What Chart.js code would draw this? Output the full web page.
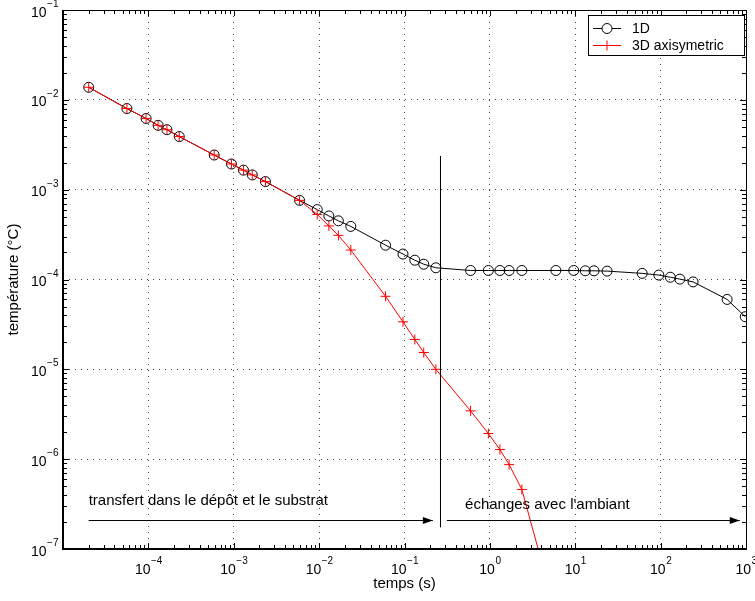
<!DOCTYPE html>
<html><head><meta charset="utf-8">
<script src="https://cdn.jsdelivr.net/npm/chart.js@4.4.1/dist/chart.umd.min.js"></script>
<style>html,body{margin:0;padding:0;background:#fff;overflow:hidden}#wrap{width:755px;height:601px}</style>
</head><body><div id="wrap"><canvas id="c" width="755" height="601"></canvas></div>
<script>
// ---- data ----
const times1D = [2e-5, 5.6e-5, 9.4e-5, 1.3e-4, 1.65e-4, 2.3e-4, 5.9e-4, 9.4e-4, 1.3e-3, 1.65e-3, 2.35e-3,
  5.9e-3, 9.5e-3, 1.3e-2, 1.68e-2, 2.35e-2, 6.0e-2, 9.6e-2, 0.132, 0.168, 0.233,
  0.594, 0.96, 1.31, 1.68, 2.37, 5.93, 9.6, 13.1, 16.6, 23.6, 60.8, 95.3, 130, 168, 240, 601, 980];
const temp1D = [1.38e-2, 8.0e-3, 6.2e-3, 5.2e-3, 4.65e-3, 3.9e-3, 2.43e-3, 1.93e-3, 1.65e-3, 1.46e-3, 1.23e-3,
  7.6e-4, 6.0e-4, 5.1e-4, 4.5e-4, 3.9e-4, 2.41e-4, 1.92e-4, 1.64e-4, 1.48e-4, 1.35e-4,
  1.26e-4, 1.26e-4, 1.26e-4, 1.26e-4, 1.26e-4, 1.26e-4, 1.26e-4, 1.25e-4, 1.25e-4, 1.24e-4, 1.17e-4, 1.12e-4, 1.06e-4, 1.01e-4, 9.4e-5, 6.0e-5, 3.85e-5];
const times3D = [2e-5, 5.6e-5, 9.4e-5, 1.3e-4, 1.65e-4, 2.3e-4, 5.9e-4, 9.4e-4, 1.3e-3, 1.65e-3, 2.35e-3,
  5.9e-3, 9.5e-3, 1.3e-2, 1.68e-2, 2.35e-2, 6.0e-2, 9.6e-2, 0.132, 0.168, 0.233,
  0.594, 0.96, 1.31, 1.68, 2.37, 5.93];
const temp3D = [1.38e-2, 8.0e-3, 6.2e-3, 5.2e-3, 4.65e-3, 3.9e-3, 2.43e-3, 1.93e-3, 1.65e-3, 1.46e-3, 1.23e-3,
  7.6e-4, 5.3e-4, 3.95e-4, 3.1e-4, 2.13e-4, 6.5e-5, 3.38e-5, 2.15e-5, 1.54e-5, 1.0e-5,
  3.45e-6, 1.93e-6, 1.28e-6, 8.7e-7, 4.6e-7, 1.9e-8];
const seriesNames = ['1D', '3D axisymetric'];
const xTickExps = [-4, -3, -2, -1, 0, 1, 2, 3];
const yTickExps = [-7, -6, -5, -4, -3, -2, -1];
const xRange = [1e-5, 1e3];
const yRange = [1e-7, 1e-1];
const xTitle = 'temps (s)';
const yTitle = 'température (°C)';
// annotations
const separatorX = [0.264, 0.264];
const separatorY = [2.37e-3, 1.75e-7];
const arrowLeftX = [2e-5, 0.215];
const arrowRightX = [0.313, 845];
const arrowY = [2.075e-7, 2.075e-7];
const annotTexts = ['transfert dans le dépôt et le substrat', "échanges avec l'ambiant"];
const annotX = [2e-5, 0.512];
const annotY = [3.09e-7, 2.79e-7];

// ---- helpers ----
const FONT = '"Liberation Sans", Arial, Helvetica, sans-serif';
const isMajor = v => Math.abs(Math.log10(v) - Math.round(Math.log10(v))) < 1e-6;
const pts = (xs, ys) => xs.map((x, i) => ({x: x, y: ys[i]}));

const matlabPlugin = {
  id: 'matlabAxes',
  afterDatasetsDraw(chart) {
    const ctx = chart.ctx, a = chart.chartArea, xs = chart.scales.x, ys = chart.scales.y;
    ctx.save();
    // arrowheads
    ctx.fillStyle = '#000';
    [arrowLeftX, arrowRightX].forEach(ax => {
      const tx = xs.getPixelForValue(ax[1]), ty = ys.getPixelForValue(arrowY[1]);
      ctx.beginPath();
      ctx.moveTo(tx, ty);
      ctx.lineTo(tx - 10, ty - 3.5);
      ctx.lineTo(tx - 10, ty + 3.5);
      ctx.closePath();
      ctx.fill();
    });
    // annotation texts
    ctx.font = '15px ' + FONT;
    ctx.textAlign = 'left';
    ctx.textBaseline = 'alphabetic';
    annotTexts.forEach((t, i) => {
      ctx.fillText(t, xs.getPixelForValue(annotX[i]), ys.getPixelForValue(annotY[i]));
    });
    // ticks (inward, all four sides)
    ctx.strokeStyle = '#000';
    ctx.lineWidth = 1;
    ctx.beginPath();
    for (let d = -5; d <= 3; d++) {
      for (let k = 1; k <= 9; k++) {
        const v = k * Math.pow(10, d);
        if (v > xRange[1] * 1.0001) break;
        const px = Math.round(xs.getPixelForValue(v)) + 0.5;
        const len = k === 1 ? 6 : 4;
        ctx.moveTo(px, a.bottom); ctx.lineTo(px, a.bottom - len);
        ctx.moveTo(px, a.top); ctx.lineTo(px, a.top + len);
      }
    }
    for (let d = -7; d <= -1; d++) {
      for (let k = 1; k <= 9; k++) {
        const v = k * Math.pow(10, d);
        if (v > yRange[1] * 1.0001) break;
        const py = Math.round(ys.getPixelForValue(v)) + 0.5;
        const len = k === 1 ? 6 : 4;
        ctx.moveTo(a.left, py); ctx.lineTo(a.left + len, py);
        ctx.moveTo(a.right, py); ctx.lineTo(a.right - len, py);
      }
    }
    ctx.stroke();
    // box
    ctx.lineWidth = 1;
    ctx.beginPath();
    ctx.moveTo(a.left, Math.round(a.top) + 0.5); ctx.lineTo(a.right, Math.round(a.top) + 0.5);
    ctx.moveTo(Math.round(a.right) + 0.5, a.top); ctx.lineTo(Math.round(a.right) + 0.5, a.bottom);
    ctx.stroke();
    ctx.lineWidth = 2;
    ctx.beginPath();
    ctx.moveTo(Math.round(a.left), a.top); ctx.lineTo(Math.round(a.left), a.bottom + 1);
    ctx.moveTo(a.left - 1, Math.round(a.bottom)); ctx.lineTo(a.right + 1, Math.round(a.bottom));
    ctx.stroke();
    // tick labels
    const base = '14px ' + FONT, sup = '10px ' + FONT;
    ctx.fillStyle = '#000';
    ctx.textBaseline = 'alphabetic';
    ctx.textAlign = 'left';
    xTickExps.forEach(e => {
      const px = xs.getPixelForValue(Math.pow(10, e));
      const s = e < 0 ? '\u2212' + (-e) : String(e);
      ctx.font = base; const w1 = ctx.measureText('10').width;
      ctx.font = sup; const w2 = ctx.measureText(s).width;
      const x0 = px - (w1 + w2) / 2;
      const by = a.bottom + 24.5;
      ctx.font = base; ctx.fillText('10', x0, by);
      ctx.font = sup; ctx.fillText(s, x0 + w1 + 0.5, by - 10);
    });
    yTickExps.forEach(e => {
      const py = ys.getPixelForValue(Math.pow(10, e));
      const s = e < 0 ? '\u2212' + (-e) : String(e);
      ctx.font = base; const w1 = ctx.measureText('10').width;
      ctx.font = sup; const w2 = ctx.measureText(s).width;
      const x0 = a.left - 5 - (w1 + w2);
      const by = py + 6.5;
      ctx.font = base; ctx.fillText('10', x0, by);
      ctx.font = sup; ctx.fillText(s, x0 + w1 + 0.5, by - 9.5);
    });
    // axis titles
    ctx.font = '15px ' + FONT;
    ctx.textAlign = 'center';
    ctx.fillText(xTitle, (a.left + a.right) / 2, a.bottom + 39);
    ctx.save();
    ctx.translate(18, (a.top + a.bottom) / 2);
    ctx.rotate(-Math.PI / 2);
    ctx.fillText(yTitle, 0, 0);
    ctx.restore();
    // legend
    const lx = 588, ly = 15, lw = 156, lh = 40;
    ctx.fillStyle = '#fff';
    ctx.fillRect(lx, ly, lw, lh);
    ctx.strokeStyle = '#000'; ctx.lineWidth = 1;
    ctx.strokeRect(lx + 0.5, ly + 0.5, lw, lh);
    const rows = [{y: 28.5, color: '#000', style: 'circle'}, {y: 45.5, color: '#ff0000', style: 'cross'}];
    ctx.font = '14px ' + FONT;
    ctx.textAlign = 'left'; ctx.textBaseline = 'middle';
    rows.forEach((r, i) => {
      ctx.strokeStyle = r.color; ctx.lineWidth = 1;
      ctx.beginPath(); ctx.moveTo(593, r.y); ctx.lineTo(621, r.y); ctx.stroke();
      ctx.beginPath();
      if (r.style === 'circle') {
        ctx.fillStyle = '#fff';
        ctx.arc(607, r.y, 5, 0, Math.PI * 2); ctx.fill(); ctx.stroke();
      } else {
        ctx.moveTo(602, r.y); ctx.lineTo(612, r.y);
        ctx.moveTo(607, r.y - 5); ctx.lineTo(607, r.y + 5); ctx.stroke();
      }
      ctx.fillStyle = '#000';
      ctx.fillText(seriesNames[i], 632, r.y + 1);
    });
    ctx.restore();
  }
};

const gridColor = c => (c.tick && isMajor(c.tick.value)) ? 'rgba(50,50,50,0.9)' : 'rgba(0,0,0,0)';

new Chart(document.getElementById('c'), {
  type: 'line',
  data: {
    datasets: [
      {label: seriesNames[1], data: pts(times3D, temp3D), borderColor: '#ff0000', borderWidth: 1,
       pointStyle: 'cross', pointRadius: 5, pointBorderColor: '#ff0000', pointBorderWidth: 1,
       pointBackgroundColor: '#ff0000', fill: false, tension: 0, order: 1},
      {label: seriesNames[0], data: pts(times1D, temp1D), borderColor: '#000', borderWidth: 1,
       pointStyle: 'circle', pointRadius: 5, pointBorderColor: '#000', pointBorderWidth: 1,
       pointBackgroundColor: 'rgba(0,0,0,0)', fill: false, tension: 0, order: 2},
      {label: 'separator', data: pts(separatorX, separatorY), borderColor: '#000', borderWidth: 1,
       pointRadius: 0, fill: false, order: 0},
      {label: 'arrowL', data: pts(arrowLeftX, arrowY), borderColor: '#000', borderWidth: 1,
       pointRadius: 0, fill: false, order: 0},
      {label: 'arrowR', data: pts(arrowRightX, arrowY), borderColor: '#000', borderWidth: 1,
       pointRadius: 0, fill: false, order: 0}
    ]
  },
  options: {
    responsive: false, animation: false, devicePixelRatio: 1,
    layout: {padding: {left: 63, top: 10, right: 9, bottom: 52}},
    plugins: {legend: {display: false}, tooltip: {enabled: false}},
    elements: {line: {borderCapStyle: 'butt'}},
    scales: {
      x: {type: 'logarithmic', min: xRange[0], max: xRange[1],
          ticks: {display: false}, grid: {color: gridColor, drawTicks: false, lineWidth: 1},
          border: {display: false, dash: [1, 5]}},
      y: {type: 'logarithmic', min: yRange[0], max: yRange[1],
          ticks: {display: false}, grid: {color: gridColor, drawTicks: false, lineWidth: 1},
          border: {display: false, dash: [1, 5]}}
    }
  },
  plugins: [matlabPlugin]
});
</script></body></html>
